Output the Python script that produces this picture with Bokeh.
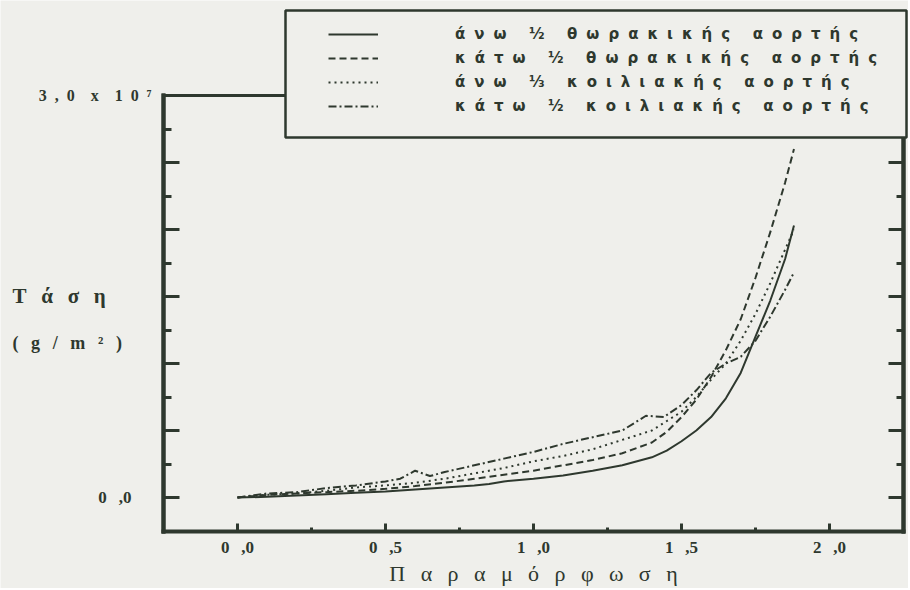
from bokeh.plotting import figure
from bokeh.models import (Range1d, LinearAxis, FixedTicker, Label, Legend, LegendItem,
                          BoxAnnotation)
from bokeh.embed import file_html
from bokeh.resources import INLINE

# ---- data: strain (Παραμόρφωση) vs stress (Τάση, in units of 10^7 g/m²) ----
x_upper_thoracic = [0, 0.1, 0.2, 0.3, 0.4, 0.5, 0.6, 0.7, 0.8, 0.85, 0.9, 1.0, 1.1, 1.2,
                    1.3, 1.4, 1.45, 1.5, 1.55, 1.6, 1.65, 1.7, 1.75, 1.8, 1.85, 1.88]
y_upper_thoracic = [0, 0.005, 0.015, 0.025, 0.035, 0.045, 0.06, 0.075, 0.09, 0.1, 0.12, 0.14,
                    0.165, 0.2, 0.24, 0.3, 0.35, 0.42, 0.5, 0.6, 0.74, 0.93, 1.2, 1.47, 1.78, 2.03]

x_lower_thoracic = [0, 0.1, 0.2, 0.3, 0.4, 0.5, 0.6, 0.7, 0.8, 0.9, 1.0, 1.1, 1.2, 1.3, 1.4,
                    1.45, 1.5, 1.55, 1.6, 1.65, 1.7, 1.75, 1.8, 1.85, 1.88]
y_lower_thoracic = [0, 0.02, 0.03, 0.04, 0.05, 0.065, 0.085, 0.11, 0.14, 0.17, 0.2, 0.24, 0.28,
                    0.33, 0.41, 0.49, 0.6, 0.73, 0.9, 1.1, 1.33, 1.64, 1.98, 2.35, 2.6]

x_upper_abdominal = [0, 0.1, 0.2, 0.3, 0.4, 0.5, 0.6, 0.7, 0.8, 0.9, 1.0, 1.1, 1.2, 1.3, 1.4,
                     1.5, 1.55, 1.6, 1.65, 1.7, 1.75, 1.8, 1.85, 1.88]
y_upper_abdominal = [0, 0.02, 0.03, 0.05, 0.075, 0.09, 0.11, 0.14, 0.18, 0.22, 0.27, 0.31, 0.36,
                     0.43, 0.5, 0.64, 0.75, 0.88, 1.0, 1.17, 1.37, 1.6, 1.85, 2.0]

x_lower_abdominal = [0, 0.1, 0.2, 0.3, 0.4, 0.5, 0.55, 0.6, 0.65, 0.7, 0.8, 0.9, 1.0, 1.1, 1.2,
                     1.3, 1.38, 1.44, 1.5, 1.55, 1.6, 1.65, 1.7, 1.75, 1.8, 1.85, 1.88]
y_lower_abdominal = [0, 0.03, 0.04, 0.07, 0.09, 0.12, 0.14, 0.2, 0.16, 0.19, 0.24, 0.29, 0.34,
                     0.4, 0.45, 0.5, 0.61, 0.6, 0.69, 0.8, 0.93, 1.0, 1.05, 1.17, 1.35, 1.55, 1.68]

# typewriter-style letter spacing (SVG collapses plain spaces, so use en/thin spaces)
EN, TH, HAIR = "\u2002", "\u2009", "\u200a"
LS = EN + TH          # gap between letters
WS = EN * 3           # gap between words


def spaced(*words, gap=LS):
    return WS.join(gap.join(w) for w in words)


legend_labels = [
    spaced("άνω", "½", "θωρακικής", "αορτής", gap=EN + HAIR),
    spaced("κάτω", "½", "θωρακικής", "αορτής", gap=EN + HAIR),
    spaced("άνω", "⅓", "κοιλιακής", "αορτής", gap=EN + HAIR),
    spaced("κάτω", "½", "κοιλιακής", "αορτής", gap=EN + HAIR),
]
x_ticks = [0, 0.5, 1.0, 1.5, 2.0]
x_tick_labels = ["0" + EN + TH + ",0", "0" + EN + TH + ",5", "1" + EN + TH + ",0",
                 "1" + EN + TH + ",5", "2" + EN + TH + ",0"]
x_minor = [0.25, 0.75, 1.25, 1.75]
y_major = [0, 0.5, 1.0, 1.5, 2.0, 2.5, 3.0]
y_minor = [0.25, 0.75, 1.25, 1.75, 2.25, 2.75]
y_bottom_label = "0" + EN + TH + ",0"
y_top_label = EN.join(["3", ",", "0", "", "x", "", "1", "0", "⁷"])
x_title = spaced("Παραμόρφωση")
y_title_1 = spaced("Τάση")
y_title_2 = LS.join(["(", "g", "/", "m", "²", ")"])

# ---- layout (pixels) ----
W, H = 908, 588
X0_PX, X_PX_PER_UNIT = 237, 296
Y0_PX, Y_PX_PER_UNIT = 497, 134
FX = (-0.25, 2.25)    # frame box in data units
FY = (-0.25, 3.0)


def px2x(px):
    return (px - X0_PX) / X_PX_PER_UNIT


def py2y(py):
    return (Y0_PX - py) / Y_PX_PER_UNIT


BG = "#efefeb"
INK = "#2e382e"
SERIF = "Liberation Serif"

p = figure(width=W, height=H, output_backend="svg", toolbar_location=None, title=None,
           x_range=Range1d(px2x(0), px2x(W)), y_range=Range1d(py2y(H), py2y(0)),
           x_axis_location=None, y_axis_location=None, min_border=0,
           background_fill_color=BG, border_fill_color=BG)
p.grid.visible = False
p.outline_line_color = None


def frame_axis(side, loc, bounds, major, minor, tick_len, minor_len, lw=4):
    ax = LinearAxis(fixed_location=loc, bounds=bounds,
                    ticker=FixedTicker(ticks=major, minor_ticks=minor),
                    axis_line_width=lw, axis_line_color=INK, axis_line_cap="square",
                    major_tick_in=tick_len, major_tick_out=0,
                    minor_tick_in=minor_len, minor_tick_out=0,
                    major_tick_line_width=3, minor_tick_line_width=3,
                    major_tick_line_color=INK, minor_tick_line_color=INK)
    p.add_layout(ax, side)
    return ax


# left / right: long ticks at 0.5 steps, short in between (no tick labels)
frame_axis("left", FX[0], FY, [], y_major, 0, 16)
frame_axis("left", FX[0], FY, [], y_minor, 0, 8)
frame_axis("right", FX[1], FY, [], y_major, 0, 15)
frame_axis("right", FX[1], FY, [], y_minor, 0, 7)
frame_axis("above", FY[1], FX, [], [], 0, 0, lw=3)
xa = frame_axis("below", FY[0], FX, x_ticks, x_minor, 8, 4)
xa.major_label_overrides = {t: l for t, l in zip(x_ticks, x_tick_labels)}
xa.major_label_standoff = 7
xa.major_label_text_font = SERIF
xa.major_label_text_font_size = "17px"
xa.major_label_text_font_style = "bold"
xa.major_label_text_color = INK

r1 = p.line(x_upper_thoracic, y_upper_thoracic, line_color=INK, line_width=2)
r2 = p.line(x_lower_thoracic, y_lower_thoracic, line_color=INK, line_width=2, line_dash="7 4")
r3 = p.line(x_upper_abdominal, y_upper_abdominal, line_color=INK, line_width=2, line_dash="2 4")
r4 = p.line(x_lower_abdominal, y_lower_abdominal, line_color=INK, line_width=2,
            line_dash="8 3 2 3")

# legend box (covers the frame's upper-right corner as in the original)
p.add_layout(BoxAnnotation(left=px2x(285), right=px2x(906), top=py2y(10), bottom=py2y(137),
                           fill_color=BG, fill_alpha=1.0, line_color=INK, line_width=2.5,
                           line_alpha=1.0))
legend = Legend(items=[LegendItem(label=l, renderers=[r])
                       for l, r in zip(legend_labels, [r1, r2, r3, r4])],
                location=(328, H - 116), orientation="vertical",
                padding=0, margin=0, spacing=4, glyph_width=50, glyph_height=20,
                label_height=20, label_standoff=77,
                label_text_font="DejaVu Sans", label_text_font_style="bold",
                label_text_font_size="15px", label_text_color=INK,
                border_line_color=None, background_fill_alpha=0.0)
p.add_layout(legend)

txt = dict(text_font=SERIF, text_color=INK, text_baseline="middle")
p.add_layout(Label(x=FX[0], y=0, x_offset=-32, text=y_bottom_label, text_align="right",
                   text_font_style="bold", text_font_size="17px", **txt))
p.add_layout(Label(x=FX[0], y=FY[1], x_offset=-12, text=y_top_label, text_align="right",
                   text_font_style="bold", text_font_size="16px", **txt))
p.add_layout(Label(x=px2x(12), y=py2y(295), text=y_title_1, text_align="left",
                   text_font_style="bold", text_font_size="21px", **txt))
p.add_layout(Label(x=px2x(12), y=py2y(342), text=y_title_2, text_align="left",
                   text_font_style="bold", text_font_size="18px", **txt))
p.add_layout(Label(x=(FX[0] + FX[1]) / 2, y=py2y(573), text=x_title, text_align="center",
                   text_font_size="22px", **txt))

open("out.html", "w").write(file_html(p, INLINE))
